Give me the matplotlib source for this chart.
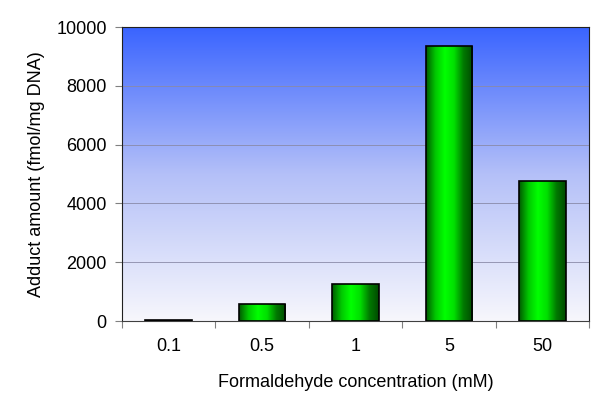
import numpy as np
import matplotlib
matplotlib.use("Agg")
import matplotlib.pyplot as plt
from matplotlib.colors import LinearSegmentedColormap
from matplotlib.patches import Rectangle

# ── Data ─────────────────────────────────────────────────────────────────
concentrations = ["0.1", "0.5", "1", "5", "50"]
adducts        = [50, 570, 1250, 9350, 4770]
# ─────────────────────────────────────────────────────────────────────────

plt.rcParams["font.family"] = ["Liberation Sans", "DejaVu Sans"]

fig = plt.figure(figsize=(6.0, 4.16), dpi=100)
ax = fig.add_axes([122 / 600, 1 - 321 / 416, 467 / 600, 294 / 416])

n = len(concentrations)
ax.set_xlim(0, n)
ax.set_ylim(0, 10000)

# background: blue at top fading to near white
bg_cmap = LinearSegmentedColormap.from_list("bg", ["#f7f7fc", "#b4c0f8", "#3a64ff"])
grad = np.linspace(0, 1, 256).reshape(-1, 1)
ax.imshow(grad, aspect="auto", cmap=bg_cmap, extent=(0, n, 0, 10000),
          origin="lower", zorder=0)

for y in range(2000, 10000, 2000):
    ax.axhline(y, color="#8a8aa8", linewidth=0.6, zorder=1)

# bars with horizontal green gradient
bar_cmap = LinearSegmentedColormap.from_list(
    "bar", ["#005a00", "#00c800", "#00ff00", "#00e000", "#007a00", "#004a00"])
hgrad = np.linspace(0, 1, 128).reshape(1, -1)
width = 0.5
for i, val in enumerate(adducts):
    x0 = i + 0.5 - width / 2
    im = ax.imshow(hgrad, aspect="auto", cmap=bar_cmap,
                   extent=(x0, x0 + width, 0, val), zorder=2)
    rect = Rectangle((x0, 0), width, val, facecolor="none",
                     edgecolor="black", linewidth=1.2, zorder=3)
    ax.add_patch(rect)
    im.set_clip_path(rect)

ax.set_xlim(0, n)
ax.set_ylim(0, 10000)

ax.set_xticks(np.arange(0, n + 1))
ax.set_xticklabels([])
ax.set_xticks(np.arange(n) + 0.5, minor=True)
ax.set_xticklabels(concentrations, minor=True)
ax.tick_params(axis="x", which="major", length=5, direction="out", color="#808080")
ax.tick_params(axis="x", which="minor", length=0, pad=12, labelsize=13)
ax.set_yticks(range(0, 10001, 2000))
ax.tick_params(axis="y", length=5, direction="out", color="#808080",
               labelsize=13, pad=6)

for side in ["top", "right", "left"]:
    ax.spines[side].set_color("#202020")
ax.spines["bottom"].set_color("#404040")

ax.set_xlabel("Formaldehyde concentration (mM)", fontsize=13, labelpad=14)
ax.set_ylabel("Adduct amount (fmol/mg DNA)", fontsize=13, labelpad=8)

fig.savefig("out.png", dpi=100)
